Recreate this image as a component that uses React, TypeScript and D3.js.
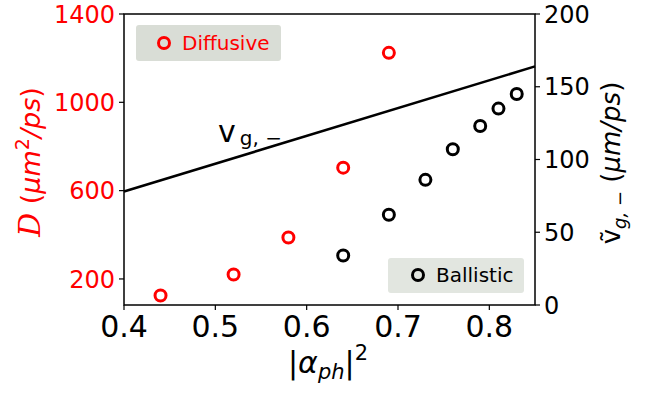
import React from 'react';
import * as d3 from 'd3';

// diffusive D (um^2/ps), left axis
const diffX = [0.44, 0.52, 0.58, 0.64, 0.69];
const diffD = [125, 220, 388, 704, 1224];

// ballistic group velocity (um/ps), right axis
const balX = [0.64, 0.69, 0.73, 0.76, 0.79, 0.81, 0.83];
const balV = [34, 62, 86, 107, 123, 135, 145];

// v_g,- reference line (right axis)
const lineX = [0.4, 0.85];
const lineV = [78, 164];

const xTicks = [0.4, 0.5, 0.6, 0.7, 0.8];
const leftTicks = [200, 600, 1000, 1400];
const rightTicks = [0, 50, 100, 150, 200];

const W = 655;
const H = 393;
const m = { left: 124, right: 535, top: 14, bottom: 305 };
const font = 'DejaVu Sans';

export default function App() {
	const x = d3.scaleLinear().domain([0.4, 0.85]).range([m.left, m.right]);
	const yL = d3.scaleLinear().domain([82, 1400]).range([m.bottom, m.top]);
	const yR = d3.scaleLinear().domain([0, 200]).range([m.bottom, m.top]);

	const line = d3.line<number>()
		.x((d, i) => x(lineX[i]))
		.y(d => yR(d));

	return (
		<svg width={W} height={H} style={{ position: 'absolute', left: 0, top: 0 }} fontFamily={font}>
			<rect width={W} height={H} fill="white" />

			{/* legends */}
			<rect x={136} y={25} width={145} height={36} rx={3} fill="#d9ddd6" />
			<circle cx={164} cy={43} r={5.5} fill="none" stroke="red" strokeWidth={3} />
			<text x={182} y={50} fontSize={20} fill="red">Diffusive</text>

			<rect x={388} y={258} width={136} height={35} rx={3} fill="#e2e6e0" />
			<circle cx={418} cy={275} r={5.5} fill="none" stroke="black" strokeWidth={3} />
			<text x={436} y={282} fontSize={20} fill="black">Ballistic</text>

			{/* line */}
			<path d={line(lineV) || ''} fill="none" stroke="black" strokeWidth={2.5} />
			<text x={218} y={142} fontSize={30} fill="black">
				v<tspan fontSize={20} dx={4} dy={3}>g, −</tspan>
			</text>

			{/* points */}
			{diffX.map((d, i) => (
				<circle key={'d' + i} cx={x(d)} cy={yL(diffD[i])} r={5.5} fill="none" stroke="red" strokeWidth={3} />
			))}
			{balX.map((d, i) => (
				<circle key={'b' + i} cx={x(d)} cy={yR(balV[i])} r={5.5} fill="none" stroke="black" strokeWidth={3} />
			))}

			{/* frame */}
			<rect x={m.left} y={m.top} width={m.right - m.left} height={m.bottom - m.top} fill="none" stroke="black" strokeWidth={1.5} />

			{/* x axis */}
			{xTicks.map(t => (
				<g key={'x' + t}>
					<line x1={x(t)} x2={x(t)} y1={m.bottom} y2={m.bottom + 5} stroke="black" strokeWidth={1.2} />
					<text x={x(t)} y={337} fontSize={30} textAnchor="middle">{t.toFixed(1)}</text>
				</g>
			))}
			<text x={328} y={373} fontSize={30} textAnchor="middle">
				|<tspan fontStyle="italic">α</tspan><tspan fontStyle="italic" fontSize={21} dy={6}>ph</tspan><tspan dy={-6}>|</tspan><tspan fontSize={21} dy={-13}>2</tspan>
			</text>

			{/* left axis */}
			{leftTicks.map(t => (
				<g key={'l' + t}>
					<line x1={m.left - 5} x2={m.left} y1={yL(t)} y2={yL(t)} stroke="black" strokeWidth={1.2} />
					<text x={115} y={yL(t)} dy="0.36em" fontSize={24} textAnchor="end" fill="red">{t}</text>
				</g>
			))}
			<text transform="translate(40,162) rotate(-90)" fontSize={27} textAnchor="middle" fill="red">
				<tspan fontFamily="DejaVu Serif" fontStyle="italic" fontSize={30}>D</tspan> (<tspan fontStyle="italic">μm</tspan><tspan fontSize={19} dy={-11}>2</tspan><tspan dy={11} fontStyle="italic">/ps</tspan>)
			</text>

			{/* right axis */}
			{rightTicks.map(t => (
				<g key={'r' + t}>
					<line x1={m.right} x2={m.right + 5} y1={yR(t)} y2={yR(t)} stroke="black" strokeWidth={1.2} />
					<text x={544} y={yR(t)} dy="0.36em" fontSize={24}>{t}</text>
				</g>
			))}
			<text transform="translate(620,163) rotate(-90)" fontSize={26} textAnchor="middle">
				<tspan>ṽ</tspan><tspan fontStyle="italic" fontSize={18} dy={6}>g, −</tspan><tspan dy={-6}>{'  '}(</tspan><tspan fontStyle="italic">μm/ps</tspan>)
			</text>
		</svg>
	);
}
